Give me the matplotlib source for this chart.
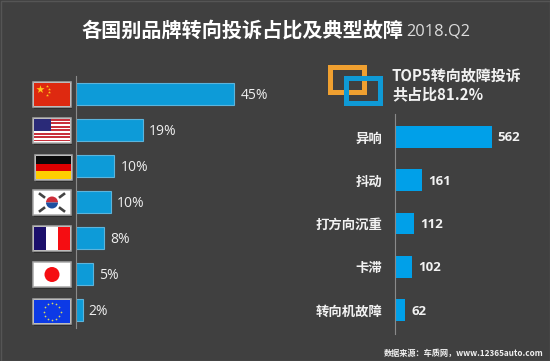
import numpy as np
import matplotlib
matplotlib.use("Agg")
import matplotlib.pyplot as plt
from matplotlib.patches import Rectangle, Circle, Wedge

plt.rcParams['font.family'] = ['Noto Sans CJK SC', 'DejaVu Sans']

# data
countries = ["China", "USA", "Germany", "Korea", "France", "Japan", "EU"]
country_share = [45, 19, 11, 10, 8, 5, 2]
country_labels = ["45%", "19%", "10%", "10%", "8%", "5%", "2%"]
faults = ["异响", "抖动", "打方向沉重", "卡滞", "转向机故障"]
fault_counts = [562, 161, 112, 102, 62]

BG = "#404040"
W, H = 550, 361


def px_axes(fig, x0, y0, x1, y1):
    # axes from pixel box, y counted from the top
    return fig.add_axes([x0 / W, 1 - y1 / H, (x1 - x0) / W, (y1 - y0) / H])


fig = plt.figure(figsize=(5.5, 3.61), dpi=100, facecolor=BG)

# overlay in pixel units for the flags and decoration
deco = px_axes(fig, 0, 0, W, H)
deco.set_xlim(0, W)
deco.set_ylim(H, 0)
deco.axis("off")
deco.add_patch(Rectangle((0.5, 0.5), W - 1, H - 1, fill=False, ec="#555555", lw=1))


def flag_box(x, y, w=38, h=25):
    deco.add_patch(Rectangle((x + 1, y + 2), w, h, fc="#2e2e2e", ec="none"))
    deco.add_patch(Rectangle((x, y), w, h, fc="white", ec="#a8a8a8", lw=1.1, zorder=3))


def flag_china(x, y):
    flag_box(x, y)
    deco.add_patch(Rectangle((x + 1, y + 1), 36, 23, fc="#de2910", zorder=4))
    deco.scatter([x + 7], [y + 7], marker="*", s=38, c="#ffc61e", lw=0, zorder=5)
    deco.scatter([x + 14, x + 16, x + 16, x + 14], [y + 4, y + 7, y + 10, y + 13],
                 marker="*", s=5, c="#ffc61e", lw=0, zorder=5)


def flag_usa(x, y):
    flag_box(x, y)
    for i in range(7):
        deco.add_patch(Rectangle((x + 1, y + 1 + i * 3.45), 36, 1.7, fc="#c8303c", zorder=4))
    deco.add_patch(Rectangle((x + 1, y + 1), 17, 12, fc="#2a2a78", zorder=5))


def flag_germany(x, y):
    flag_box(x, y, w=37)
    for i, c in enumerate(["#0a0a0a", "#dd0000", "#ffce00"]):
        deco.add_patch(Rectangle((x + 1, y + 1 + i * 7.7), 35, 7.7, fc=c, zorder=4))


def flag_korea(x, y):
    flag_box(x, y)
    cx, cy = x + 19, y + 12.5
    deco.add_patch(Wedge((cx, cy), 6, 180, 360, fc="#cd2e3a", zorder=4))
    deco.add_patch(Wedge((cx, cy), 6, 0, 180, fc="#1c4fa0", zorder=4))
    for dx, dy in [(-10, -7), (10, -7), (-10, 7), (10, 7)]:
        s = np.sign(dx * dy)
        deco.plot([cx + dx - 2, cx + dx + 2], [cy + dy - s * 1.5, cy + dy + s * 1.5],
                  color="#444444", lw=1.9, zorder=4)


def flag_france(x, y):
    flag_box(x, y)
    deco.add_patch(Rectangle((x + 1, y + 1), 12, 23, fc="#1b0f6b", zorder=4))
    deco.add_patch(Rectangle((x + 25, y + 1), 12, 23, fc="#f50d12", zorder=4))


def flag_japan(x, y):
    flag_box(x, y)
    deco.add_patch(Circle((x + 19, y + 12.5), 7.5, fc="#f50d12", zorder=4))


def flag_eu(x, y):
    flag_box(x, y)
    deco.add_patch(Rectangle((x + 1, y + 1), 36, 23, fc="#0c3ae6", zorder=4))
    a = np.linspace(0, 2 * np.pi, 12, endpoint=False)
    deco.scatter(x + 19 + 8.5 * np.cos(a), y + 12.5 + 8.5 * np.sin(a),
                 s=1.5, c="#d8d860", lw=0, zorder=5)


flag_china(33, 82)
flag_usa(33, 118)
flag_germany(35, 155)
flag_korea(33, 190)
flag_france(33, 226)
flag_japan(33, 262)
flag_eu(33, 299)

# the two overlapping squares next to the callout
deco.add_patch(Rectangle((329.5, 66.5), 34, 25, fill=False, ec="#f0a030", lw=3.6))
deco.add_patch(Rectangle((345.5, 77.5), 34, 25, fill=False, ec="#0f9ad6", lw=3.6))

# left chart
ax1 = px_axes(fig, 75.5, 76, 270, 328)
y1 = np.arange(len(countries))
ax1.barh(y1, country_share, height=0.62, color="#0d9bd8", edgecolor="#5cb4dc", linewidth=0.8)
ax1.set_xlim(0, 194.5 / 3.53)
ax1.set_ylim(len(countries) - 0.5, -0.5)
for i, v in enumerate(country_share):
    ax1.annotate(country_labels[i], (v, i), xytext=(4.5, -1), textcoords="offset points",
                 va="center", ha="left", color="#eeeeee", fontsize=10,
                 family=["Open Sans", "DejaVu Sans"])

# right chart
ax2 = px_axes(fig, 394.5, 114, 545, 334)
y2 = np.arange(len(faults))
ax2.barh(y2, fault_counts, height=0.5, color="#00a0e9")
ax2.set_xlim(0, 150.5 / 0.1726)
ax2.set_ylim(len(faults) - 0.45, -0.53)
ax2.set_yticks(y2, faults)
for i, v in enumerate(fault_counts):
    ax2.annotate(str(v), (v, i), xytext=(4.5, -0.7), textcoords="offset points",
                 va="center", ha="left", color="#f2f2f2", fontsize=9.5, fontweight="bold",
                 family=["Open Sans", "DejaVu Sans"])

for ax in (ax1, ax2):
    ax.patch.set_alpha(0)
    ax.set_xticks([])
    for s in ("top", "right", "bottom"):
        ax.spines[s].set_visible(False)
    ax.spines["left"].set_color("#8a8a8a")
    ax.spines["left"].set_linewidth(0.8)
ax1.set_yticks([])
ax2.tick_params(axis="y", length=0, pad=9, labelsize=9.6, labelcolor="#f2f2f2")
for t in ax2.get_yticklabels():
    t.set_fontweight("bold")

# texts, placed in pixels on the overlay
deco.text(81, 30, "各国别品牌转向投诉占比及典型故障", color="white", fontsize=14.5,
          fontweight="bold", va="center", ha="left")
deco.text(406, 31, "2018.Q2", color="#dddddd", fontsize=11.8, va="center", ha="left",
          family=["Open Sans", "DejaVu Sans"])
deco.text(392, 76, "TOP5转向故障投诉", color="#f2f2f2", fontsize=10.8, fontweight="bold",
          va="center", ha="left")
deco.text(392, 94, "共占比81.2%", color="#f2f2f2", fontsize=10.8, fontweight="bold",
          va="center", ha="left")
deco.text(544, 353, "数据来源：车质网，www.12365auto.com", color="#f0f0f0", fontsize=5.9,
          fontweight="bold", va="center", ha="right")

fig.savefig("out.png", dpi=100, facecolor=BG)
